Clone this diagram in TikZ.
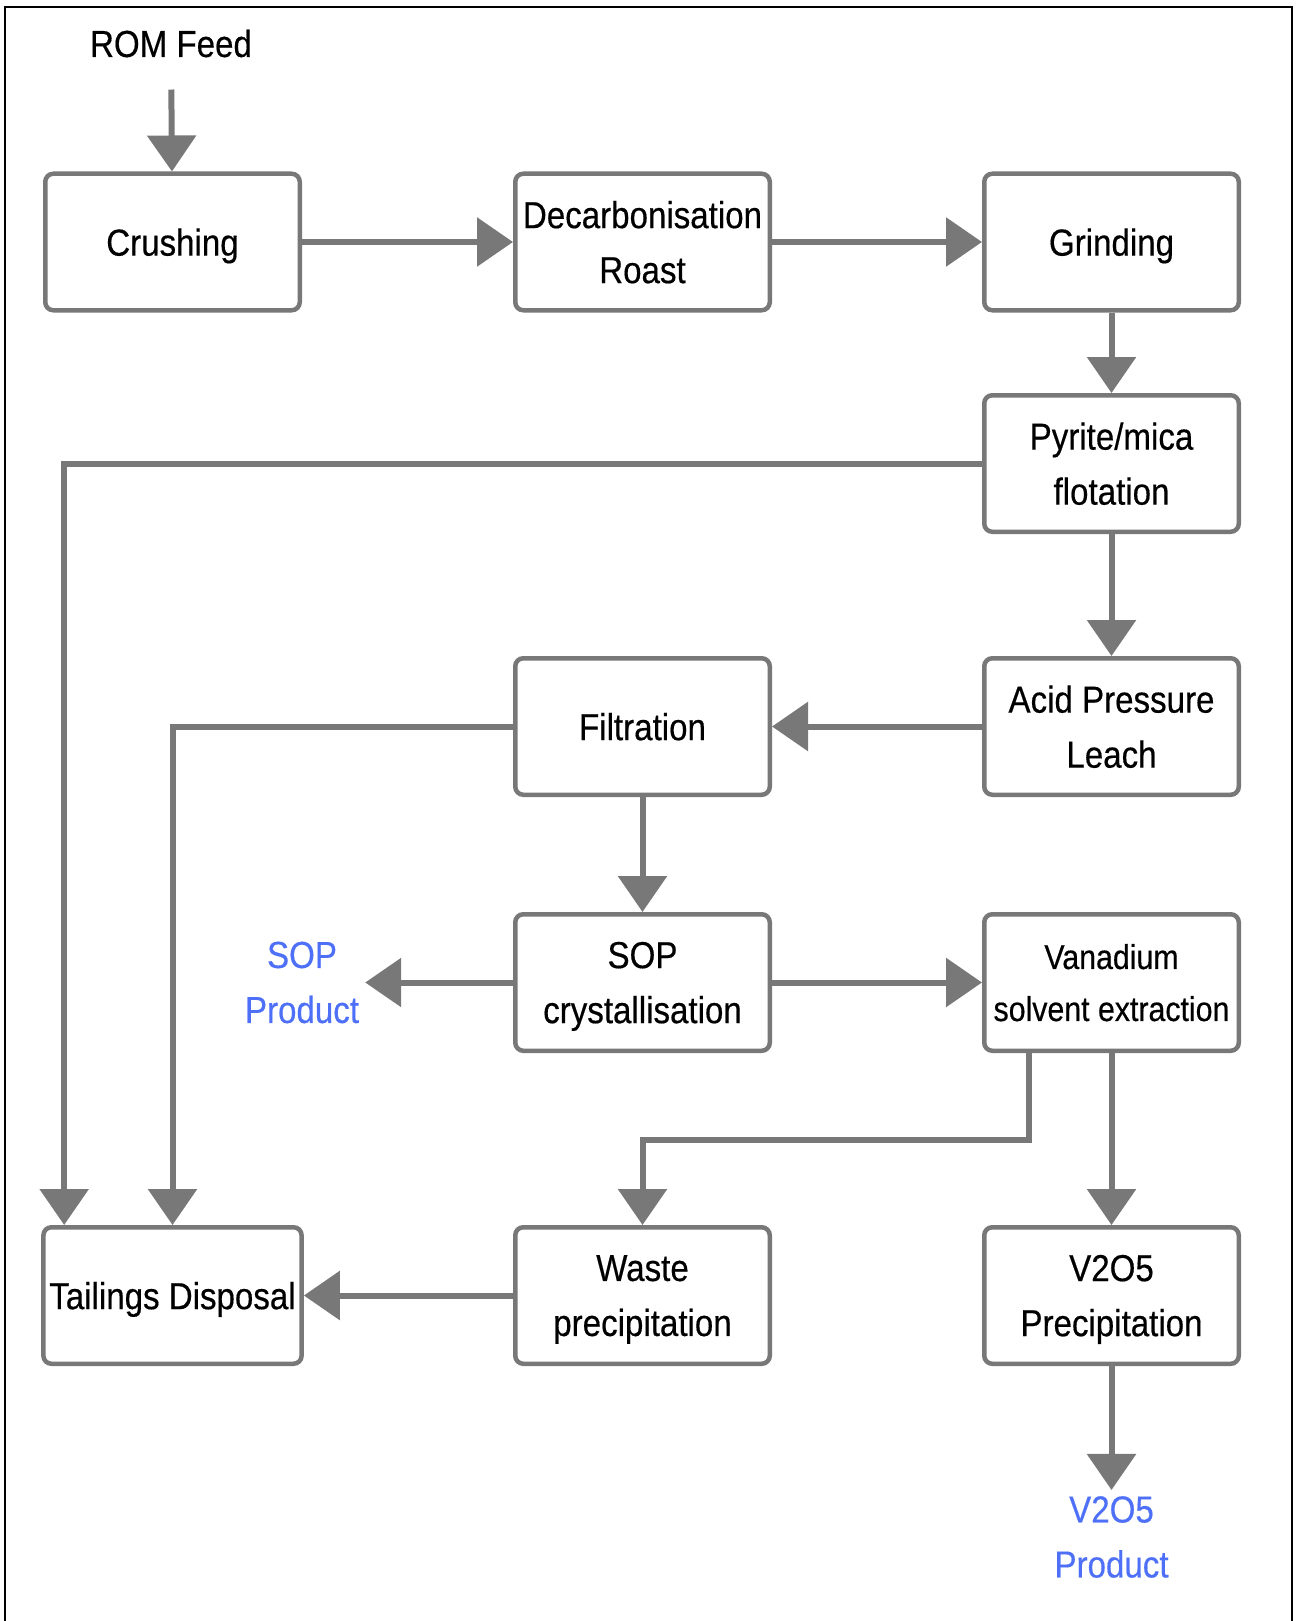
\documentclass[tikz,border=0pt]{standalone}
\usepackage{fontspec}
\setmainfont{Liberation Sans}[FakeStretch=0.88,FakeBold=0.4]
\usetikzlibrary{arrows.meta}

\definecolor{linegray}{RGB}{120,120,120}
\definecolor{prodblue}{RGB}{78,112,248}

\tikzset{
  stage/.style={draw=linegray, line width=0.09cm, rounded corners=0.16cm, fill=white,
    minimum width=5.09cm, minimum height=2.73cm, align=center, text=black, text depth=0pt,
    font=\fontsize{21.4}{31.3}\selectfont},
  flow/.style={draw=linegray, line width=0.12cm,
    -{Triangle[width=0.96cm,length=0.72cm]}},
  product/.style={align=center, text=prodblue, font=\fontsize{21.4}{31.3}\selectfont},
}

\begin{document}
\begin{tikzpicture}
			%%%%% START %%%%%
			\useasboundingbox (0, 0) rectangle (25.92, -32.42);
			\draw[line width=0.04cm] (0.1, -32.42) -- (0.1, -0.14) -- (25.84, -0.14) -- (25.84, -32.42);
			
			\node[align=center, font=\fontsize{21.4}{31.3}\selectfont] (rom) at (3.42, -0.87) {ROM Feed};
			
			\node[stage] (crush) at (3.45, -4.84) {Crushing};
			\node[stage] (decarb) at (12.85, -4.84) {Decarbonisation\\Roast};
			\node[stage] (grind) at (22.23, -4.84) {Grinding};
			
			\node[stage] (pyrite) at (22.23, -9.27) {Pyrite/mica\\flotation};
			
			\node[stage] (filt) at (12.85, -14.53) {Filtration};
			\node[stage] (leach) at (22.23, -14.53) {Acid Pressure\\Leach};
			
			\node[product] (sopprod) at (6.04, -19.65) {SOP\\Product};
			\node[stage] (sop) at (12.85, -19.65) {SOP\\crystallisation};
			\node[stage, font=\fontsize{19.6}{29.6}\selectfont] (vsx) at (22.23, -19.65) {Vanadium\\solvent extraction};
			
			\node[stage] (tail) at (3.45, -25.91) {Tailings Disposal};
			\node[stage] (waste) at (12.85, -25.91) {Waste\\precipitation};
			\node[stage] (vprec) at (22.23, -25.91) {V2O5\\Precipitation};
			
			\node[product] (vprod) at (22.23, -30.74) {V2O5\\Product};
			
			\coordinate (tailL) at ([xshift=0.46cm]tail.north west);
			\coordinate (bend) at (20.58, -22.8);
			
			\draw[flow, shorten <=0.52cm] (rom) -- (crush);
			\draw[flow] (crush) -- (decarb);
			\draw[flow] (decarb) -- (grind);
			\draw[flow] (grind) -- (pyrite);
			\draw[flow] (pyrite) -| (tailL);
			\draw[flow] (pyrite) -- (leach);
			\draw[flow] (leach) -- (filt);
			\draw[flow] (filt) -| (tail);
			\draw[flow] (filt) -- (sop);
			\draw[flow] (sop) -- (sopprod);
			\draw[flow] (sop) -- (vsx);
			\draw[flow] (vsx.south -| bend) -- (bend) -| (waste);
			\draw[flow] (vsx) -- (vprec);
			\draw[flow] (waste) -- (tail);
			\draw[flow] (vprec) -- (vprod);
			
			%%%%% END %%%%%
		\end{tikzpicture}
\end{document}
